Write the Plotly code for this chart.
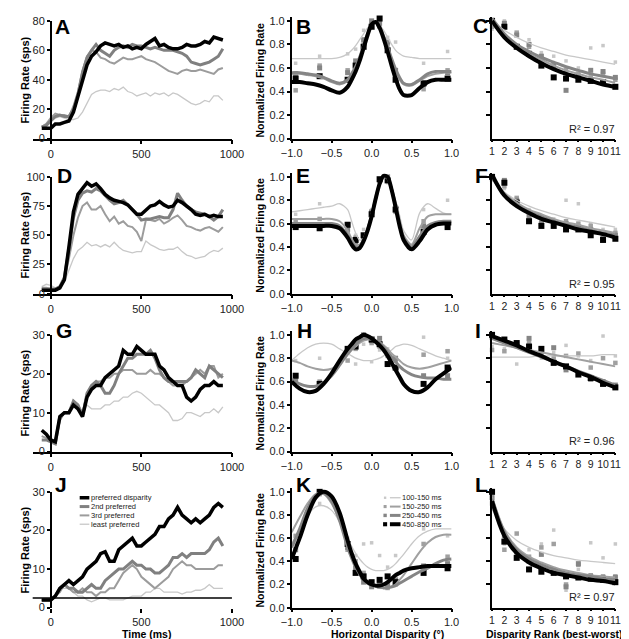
import plotly.graph_objects as go

W, H = 629, 639
FONT = "Liberation Sans, Arial, sans-serif"

# ---------------- PSTH data (column 1) ----------------
TIME_MS = [-50, -25, 0, 25, 50, 75, 100, 125, 150, 175, 200, 225, 250, 275, 300, 325, 350, 375, 400, 425,
           450, 475, 500, 525, 550, 575, 600, 625, 650, 675, 700, 725, 750, 775, 800, 825, 850, 875, 900, 925, 950]

A_PREFERRED = [7, 7, 7, 10, 10, 11, 12, 18, 28, 40, 50, 56, 59, 63, 65, 64, 63, 64, 62, 63,
               61, 62, 61, 64, 66, 68, 63, 64, 62, 61, 61, 62, 64, 63, 63, 64, 66, 65, 69, 68, 67]
A_SECOND = [8, 9, 12, 15, 16, 15, 15, 20, 30, 45, 55, 60, 64, 60, 58, 56, 60, 62, 63, 62,
            64, 63, 63, 62, 61, 62, 61, 60, 60, 60, 59, 58, 56, 52, 51, 50, 51, 52, 54, 56, 61]
A_THIRD = [8, 10, 14, 17, 16, 16, 15, 22, 32, 46, 56, 60, 59, 55, 54, 52, 51, 53, 55, 54,
           54, 55, 56, 54, 53, 52, 50, 48, 46, 45, 44, 46, 47, 46, 46, 47, 46, 45, 44, 47, 48]
A_LEAST = [8, 9, 12, 14, 15, 14, 13, 13, 14, 18, 24, 30, 32, 33, 33, 32, 34, 33, 35, 32,
           31, 29, 30, 31, 29, 31, 30, 31, 29, 31, 30, 28, 26, 24, 23, 24, 26, 25, 29, 29, 26]

D_PREFERRED = [3, 3, 3, 3, 5, 12, 40, 70, 85, 90, 95, 92, 94, 90, 85, 82, 80, 79, 78, 76,
               72, 68, 68, 72, 75, 76, 79, 76, 74, 75, 80, 78, 75, 72, 68, 67, 68, 66, 67, 66, 66]
D_SECOND = [4, 4, 4, 4, 6, 14, 38, 65, 80, 86, 88, 87, 90, 88, 84, 80, 77, 78, 80, 76,
            72, 68, 63, 64, 64, 65, 66, 65, 65, 72, 86, 80, 75, 72, 70, 69, 68, 66, 63, 66, 72]
D_THIRD = [5, 5, 4, 4, 6, 12, 30, 50, 65, 75, 78, 72, 72, 75, 68, 62, 66, 60, 62, 58,
           57, 53, 45, 63, 63, 62, 64, 60, 62, 65, 67, 63, 58, 57, 55, 54, 56, 57, 55, 53, 57]
D_LEAST = [6, 8, 7, 5, 6, 10, 20, 30, 37, 40, 44, 41, 42, 40, 42, 40, 44, 40, 37, 36,
           35, 36, 36, 45, 42, 40, 38, 37, 38, 38, 40, 36, 33, 32, 30, 31, 32, 35, 37, 36, 39]

G_PREFERRED = [5.5, 4.5, 3, 2.5, 9, 10, 10, 12, 11, 9, 14, 16, 17, 17, 19, 20, 21, 22, 26, 25,
               25, 27, 26, 25, 25, 25, 22, 21, 19, 18, 17, 17, 14, 13, 14, 16, 17, 17, 18, 17, 17]
G_SECOND = [3, 3, 2.5, 2, 9, 10, 10, 13, 12, 9, 15, 17, 18, 17, 15, 15, 17, 20, 22, 24,
            24, 25, 25, 25, 26, 24, 21, 19, 18, 18, 18, 18, 18, 19, 21, 20, 19, 22, 21, 20, 19]
G_THIRD = [4, 3.5, 3, 2.5, 8, 10, 10, 13, 12, 10, 15, 17, 18, 18, 19, 19, 20, 20, 21, 21,
           21, 20, 20, 20, 21, 20, 20, 19, 18, 17, 17, 17, 18, 19, 20, 21, 20, 22, 22, 19, 20]
G_LEAST = [4, 3.5, 3, 3, 8, 10, 10, 12, 11, 10, 12, 11, 11, 11, 12, 12, 13, 13, 14, 14,
           15, 15.5, 15, 14, 13, 12, 12, 11, 10, 8, 8, 8.5, 10, 10, 9.5, 9, 10, 10, 11, 10, 11.5]

J_PREFERRED = [2, 2, 2, 3, 5, 6, 7, 6, 7, 8, 10, 11, 12, 14, 14.5, 12, 12, 15, 16, 17,
               18, 16, 16, 17, 18, 19, 21, 21, 23, 24, 26, 24, 23, 22, 23, 22, 23, 24, 26, 27, 26]
J_SECOND = [2, 2, 2, 3, 5, 6, 5, 5, 4, 4, 5, 6, 5, 5, 7, 8, 9, 10, 10, 11,
            12, 11, 11, 10, 10, 9, 9, 10, 11, 13, 13, 14, 13, 14, 14, 14, 14, 15, 17, 18, 16]
J_THIRD = [2, 2, 2, 3, 4, 6, 5, 4, 4, 5, 4, 4, 3, 4, 4, 5, 5, 7, 9, 10,
           11, 10, 8, 7, 6, 5, 6, 7, 8, 10, 11, 12, 11, 11, 10, 10, 10, 10, 10, 11, 11]
J_LEAST = [2, 2, 2, 3, 5, 5, 5, 4, 3, 3, 2, 1.5, 2, 2.5, 2.5, 2, 2, 2, 2, 2.5,
           3, 3, 3, 4, 4, 5, 5, 4, 4, 4, 4, 3.5, 4, 4, 4.5, 4.5, 5, 6, 5, 5, 5]
J_BASELINE = 2.5

PSTH_NAMES = ["preferred disparity", "2nd preferred", "3rd preferred", "least preferred"]
PSTH_YMAX = [80, 100, 30, 30]
PSTH_TICKS = [[0, 20, 40, 60, 80], [0, 25, 50, 75, 100], [0, 10, 20, 30], [0, 10, 20, 30]]
TIME_TICKS = [0, 500, 1000]

# ---------------- Disparity tuning (column 2) ----------------
WINDOW_NAMES = ["100-150 ms", "150-250 ms", "250-450 ms", "450-850 ms"]
DISP_FIT = [-1.0, -0.9, -0.8, -0.7, -0.6, -0.5, -0.4, -0.3, -0.25, -0.2, -0.15, -0.1, -0.05, 0.0,
            0.05, 0.1, 0.15, 0.2, 0.25, 0.3, 0.35, 0.4, 0.5, 0.6, 0.7, 0.8, 0.9, 1.0]
DISP_DATA = [-0.95, -0.65, -0.3, -0.2, -0.1, 0.0, 0.1, 0.2, 0.3, 0.65, 0.95]
DISP_TICKS = [-1.0, -0.5, 0.0, 0.5, 1.0]

B_FIT_100 = [0.68, 0.68, 0.68, 0.68, 0.68, 0.68, 0.69, 0.72, 0.75, 0.79, 0.84, 0.89, 0.94, 0.97,
             0.98, 0.96, 0.92, 0.86, 0.8, 0.75, 0.72, 0.7, 0.69, 0.68, 0.68, 0.68, 0.68, 0.68]
B_FIT_150 = [0.55, 0.55, 0.54, 0.53, 0.51, 0.48, 0.46, 0.49, 0.54, 0.6, 0.69, 0.79, 0.89, 0.97,
             0.99, 0.95, 0.87, 0.77, 0.66, 0.57, 0.5, 0.46, 0.45, 0.49, 0.53, 0.55, 0.56, 0.56]
B_FIT_250 = [0.56, 0.56, 0.55, 0.54, 0.52, 0.49, 0.47, 0.5, 0.55, 0.61, 0.69, 0.79, 0.89, 0.97,
             0.99, 0.95, 0.87, 0.78, 0.68, 0.59, 0.52, 0.47, 0.46, 0.5, 0.55, 0.57, 0.57, 0.57]
B_FIT_450 = [0.48, 0.48, 0.47, 0.46, 0.44, 0.41, 0.39, 0.44, 0.5, 0.57, 0.66, 0.77, 0.88, 0.97,
             0.99, 0.94, 0.85, 0.74, 0.62, 0.51, 0.42, 0.37, 0.37, 0.43, 0.48, 0.5, 0.5, 0.5]
B_PTS_100 = [0.64, 0.7, 0.72, 0.76, 0.92, 0.97, 0.96, 0.86, 0.82, 0.64, 0.74]
B_PTS_150 = [0.41, 0.62, 0.58, 0.6, 0.8, 0.97, 0.95, 0.8, 0.55, 0.42, 0.58]
B_PTS_250 = [0.55, 0.6, 0.56, 0.66, 0.84, 1.0, 0.98, 0.82, 0.58, 0.46, 0.56]
B_PTS_450 = [0.51, 0.53, 0.5, 0.62, 0.78, 0.95, 1.02, 0.75, 0.5, 0.47, 0.51]

E_FIT_100 = [0.7, 0.71, 0.72, 0.73, 0.74, 0.75, 0.77, 0.72, 0.62, 0.52, 0.46, 0.47, 0.55, 0.68,
             0.82, 0.94, 1.0, 0.99, 0.92, 0.8, 0.67, 0.54, 0.46, 0.69, 0.77, 0.73, 0.69, 0.68]
E_FIT_150 = [0.64, 0.64, 0.64, 0.64, 0.64, 0.64, 0.62, 0.54, 0.47, 0.42, 0.42, 0.47, 0.56, 0.68,
             0.82, 0.94, 1.0, 0.99, 0.9, 0.77, 0.63, 0.5, 0.42, 0.56, 0.66, 0.68, 0.68, 0.68]
E_FIT_250 = [0.6, 0.6, 0.6, 0.6, 0.6, 0.6, 0.58, 0.5, 0.44, 0.4, 0.4, 0.46, 0.55, 0.67,
             0.81, 0.94, 1.0, 0.99, 0.89, 0.75, 0.6, 0.48, 0.4, 0.49, 0.58, 0.61, 0.62, 0.62]
E_FIT_450 = [0.58, 0.58, 0.58, 0.58, 0.58, 0.58, 0.56, 0.48, 0.42, 0.38, 0.39, 0.45, 0.54, 0.66,
             0.81, 0.94, 1.01, 1.0, 0.89, 0.74, 0.58, 0.46, 0.38, 0.45, 0.55, 0.59, 0.6, 0.6]
E_PTS_100 = [0.68, 0.77, 0.6, 0.5, 0.55, 0.72, 0.98, 0.95, 0.75, 0.72, 0.8]
E_PTS_150 = [0.62, 0.64, 0.52, 0.48, 0.5, 0.7, 0.96, 0.98, 0.7, 0.62, 0.6]
E_PTS_250 = [0.58, 0.58, 0.55, 0.44, 0.48, 0.7, 0.97, 1.0, 0.74, 0.58, 0.58]
E_PTS_450 = [0.57, 0.56, 0.59, 0.46, 0.5, 0.68, 0.98, 0.97, 0.72, 0.53, 0.57]

H_FIT_100 = [0.78, 0.84, 0.89, 0.92, 0.93, 0.92, 0.88, 0.84, 0.82, 0.8, 0.79, 0.78, 0.78, 0.78,
             0.79, 0.8, 0.82, 0.85, 0.87, 0.9, 0.91, 0.92, 0.91, 0.88, 0.85, 0.82, 0.8, 0.78]
H_FIT_150 = [0.78, 0.76, 0.73, 0.71, 0.7, 0.71, 0.76, 0.83, 0.87, 0.9, 0.93, 0.95, 0.96, 0.96,
             0.95, 0.94, 0.91, 0.88, 0.84, 0.81, 0.78, 0.75, 0.72, 0.71, 0.72, 0.74, 0.76, 0.78]
H_FIT_250 = [0.62, 0.58, 0.56, 0.56, 0.59, 0.65, 0.74, 0.84, 0.88, 0.92, 0.95, 0.97, 0.97, 0.97,
             0.95, 0.93, 0.89, 0.85, 0.81, 0.77, 0.73, 0.7, 0.66, 0.64, 0.63, 0.63, 0.62, 0.62]
H_FIT_450 = [0.6, 0.54, 0.51, 0.52, 0.58, 0.67, 0.78, 0.88, 0.92, 0.96, 0.98, 1.0, 0.99, 0.97,
             0.94, 0.91, 0.87, 0.82, 0.76, 0.7, 0.64, 0.58, 0.52, 0.51, 0.55, 0.62, 0.67, 0.72]
H_PTS_100 = [0.78, 0.8, 0.85, 0.75, 0.92, 0.77, 0.87, 0.88, 0.8, 0.98, 0.8]
H_PTS_150 = [0.62, 0.6, 0.78, 0.88, 1.0, 0.93, 0.9, 0.82, 0.78, 0.83, 0.86]
H_PTS_250 = [0.6, 0.57, 0.86, 0.92, 1.0, 0.95, 0.97, 0.85, 0.8, 0.65, 0.65]
H_PTS_450 = [0.65, 0.58, 0.88, 0.9, 0.98, 0.96, 0.92, 0.75, 0.72, 0.58, 0.72]

K_FIT_100 = [0.55, 0.68, 0.8, 0.87, 0.88, 0.84, 0.74, 0.6, 0.53, 0.47, 0.42, 0.38, 0.35, 0.33,
             0.32, 0.32, 0.32, 0.33, 0.35, 0.38, 0.42, 0.46, 0.55, 0.62, 0.66, 0.68, 0.68, 0.68]
K_FIT_150 = [0.65, 0.78, 0.9, 0.98, 0.98, 0.9, 0.75, 0.55, 0.46, 0.38, 0.31, 0.26, 0.22, 0.2,
             0.18, 0.17, 0.17, 0.17, 0.18, 0.2, 0.24, 0.28, 0.38, 0.48, 0.56, 0.61, 0.63, 0.63]
K_FIT_250 = [0.52, 0.68, 0.86, 0.97, 0.99, 0.92, 0.75, 0.52, 0.43, 0.35, 0.29, 0.24, 0.21, 0.2,
             0.19, 0.18, 0.17, 0.17, 0.18, 0.19, 0.21, 0.23, 0.27, 0.31, 0.34, 0.38, 0.41, 0.42]
K_FIT_450 = [0.42, 0.6, 0.8, 0.95, 1.0, 0.96, 0.82, 0.58, 0.47, 0.38, 0.31, 0.25, 0.22, 0.2,
             0.19, 0.19, 0.2, 0.22, 0.25, 0.28, 0.3, 0.32, 0.34, 0.35, 0.36, 0.36, 0.36, 0.36]
K_PTS_100 = [0.55, 0.9, 0.6, 0.45, 0.55, 0.56, 0.45, 0.35, 0.45, 0.68, 0.62]
K_PTS_150 = [0.62, 0.98, 0.5, 0.4, 0.3, 0.22, 0.18, 0.17, 0.2, 0.55, 0.44]
K_PTS_250 = [0.5, 1.0, 0.52, 0.34, 0.22, 0.18, 0.2, 0.2, 0.24, 0.36, 0.38]
K_PTS_450 = [0.42, 1.0, 0.55, 0.3, 0.27, 0.22, 0.24, 0.27, 0.22, 0.3, 0.34]

# ---------------- Disparity rank (column 3) ----------------
RANKS = [1, 2, 3, 4, 5, 6, 7, 8, 9, 10, 11]

C_FIT_100 = [1.0, 0.92, 0.86, 0.81, 0.77, 0.74, 0.71, 0.69, 0.67, 0.65, 0.63]
C_FIT_150 = [1.01, 0.87, 0.78, 0.72, 0.67, 0.62, 0.58, 0.55, 0.52, 0.5, 0.47]
C_FIT_250 = [1.02, 0.89, 0.8, 0.74, 0.69, 0.65, 0.61, 0.58, 0.55, 0.53, 0.51]
C_FIT_450 = [1.0, 0.86, 0.77, 0.7, 0.64, 0.59, 0.55, 0.52, 0.49, 0.46, 0.44]
C_PTS_100 = [0.93, 1.0, 0.9, 0.84, 0.73, 0.7, 0.66, 0.6, 0.77, 0.79, 0.65]
C_PTS_150 = [0.95, 0.96, 0.9, 0.78, 0.66, 0.6, 0.58, 0.55, 0.52, 0.55, 0.5]
C_PTS_250 = [1.0, 0.98, 0.88, 0.8, 0.7, 0.62, 0.41, 0.53, 0.58, 0.57, 0.52]
C_PTS_450 = [1.0, 0.95, 0.78, 0.72, 0.62, 0.52, 0.51, 0.5, 0.49, 0.48, 0.44]

F_FIT_100 = [0.98, 0.87, 0.8, 0.75, 0.71, 0.68, 0.65, 0.63, 0.61, 0.59, 0.57]
F_FIT_150 = [0.99, 0.86, 0.78, 0.72, 0.68, 0.64, 0.61, 0.59, 0.56, 0.54, 0.52]
F_FIT_250 = [1.0, 0.85, 0.76, 0.7, 0.66, 0.62, 0.59, 0.57, 0.54, 0.52, 0.5]
F_FIT_450 = [1.02, 0.84, 0.75, 0.69, 0.64, 0.61, 0.58, 0.55, 0.53, 0.51, 0.48]
F_PTS_100 = [1.0, 0.9, 0.8, 0.72, 0.65, 0.64, 0.8, 0.77, 0.6, 0.55, 0.55]
F_PTS_150 = [0.98, 0.92, 0.82, 0.7, 0.62, 0.62, 0.62, 0.6, 0.58, 0.5, 0.52]
F_PTS_250 = [1.0, 0.97, 0.8, 0.66, 0.6, 0.6, 0.6, 0.57, 0.55, 0.48, 0.5]
F_PTS_450 = [1.0, 0.95, 0.78, 0.62, 0.58, 0.58, 0.55, 0.55, 0.5, 0.46, 0.47]

I_FIT_100 = [0.81, 0.81, 0.81, 0.81, 0.82, 0.82, 0.82, 0.82, 0.82, 0.83, 0.83]
I_FIT_150 = [0.93, 0.91, 0.89, 0.87, 0.85, 0.83, 0.81, 0.79, 0.77, 0.75, 0.73]
I_FIT_250 = [0.97, 0.93, 0.89, 0.85, 0.81, 0.77, 0.73, 0.69, 0.65, 0.61, 0.57]
I_FIT_450 = [0.99, 0.95, 0.91, 0.86, 0.82, 0.77, 0.73, 0.68, 0.64, 0.59, 0.55]
I_PTS_100 = [0.9, 0.88, 0.75, 0.88, 0.8, 0.85, 0.91, 0.82, 0.78, 0.99, 0.82]
I_PTS_150 = [0.87, 0.86, 0.92, 0.93, 0.84, 0.8, 0.82, 0.84, 0.72, 0.8, 0.76]
I_PTS_250 = [0.98, 0.95, 0.92, 0.97, 0.86, 0.89, 0.7, 0.67, 0.62, 0.6, 0.57]
I_PTS_450 = [1.0, 0.96, 0.93, 0.9, 0.88, 0.76, 0.73, 0.66, 0.63, 0.58, 0.55]

L_FIT_100 = [0.85, 0.68, 0.58, 0.52, 0.48, 0.45, 0.43, 0.41, 0.4, 0.39, 0.38]
L_FIT_150 = [0.96, 0.67, 0.52, 0.44, 0.39, 0.35, 0.32, 0.3, 0.28, 0.27, 0.26]
L_FIT_250 = [0.94, 0.65, 0.5, 0.42, 0.37, 0.33, 0.3, 0.28, 0.27, 0.25, 0.24]
L_FIT_450 = [0.92, 0.62, 0.47, 0.39, 0.34, 0.3, 0.28, 0.26, 0.24, 0.23, 0.21]
L_PTS_100 = [0.85, 0.55, 0.5, 0.5, 0.55, 0.67, 0.15, 0.33, 0.56, 0.43, 0.55]
L_PTS_150 = [0.9, 0.5, 0.64, 0.44, 0.52, 0.55, 0.2, 0.37, 0.28, 0.27, 0.27]
L_PTS_250 = [0.95, 0.62, 0.48, 0.4, 0.46, 0.33, 0.18, 0.38, 0.27, 0.26, 0.26]
L_PTS_450 = [1.0, 0.57, 0.43, 0.33, 0.31, 0.3, 0.27, 0.26, 0.25, 0.24, 0.22]

R2_LABELS = ["R² = 0.97", "R² = 0.95", "R² = 0.96", "R² = 0.97"]
PANEL_LETTERS = ["A", "B", "C", "D", "E", "F", "G", "H", "I", "J", "K", "L"]

# ---------------- styles / layout geometry ----------------
PSTH_STYLE = [("#000000", 3.5), ("#808080", 3.0), ("#9c9c9c", 2.0), ("#c8c8c8", 1.3)]
WIN_STYLE = [("#c8c8c8", 1.3, 3.5), ("#a0a0a0", 2.0, 4.5), ("#858585", 3.0, 5.0), ("#000000", 4.0, 6.0)]

ROW_PX = [(7, 127), (166, 285), (327, 446), (487, 605)]
COL_PX = [(14.2, 221), (283, 449), (491, 619)]
YAXIS1_PX = 33

PSTH = [
    [A_PREFERRED, A_SECOND, A_THIRD, A_LEAST],
    [D_PREFERRED, D_SECOND, D_THIRD, D_LEAST],
    [G_PREFERRED, G_SECOND, G_THIRD, G_LEAST],
    [J_PREFERRED, J_SECOND, J_THIRD, J_LEAST],
]
TUNE_FIT = [
    [B_FIT_100, B_FIT_150, B_FIT_250, B_FIT_450],
    [E_FIT_100, E_FIT_150, E_FIT_250, E_FIT_450],
    [H_FIT_100, H_FIT_150, H_FIT_250, H_FIT_450],
    [K_FIT_100, K_FIT_150, K_FIT_250, K_FIT_450],
]
TUNE_PTS = [
    [B_PTS_100, B_PTS_150, B_PTS_250, B_PTS_450],
    [E_PTS_100, E_PTS_150, E_PTS_250, E_PTS_450],
    [H_PTS_100, H_PTS_150, H_PTS_250, H_PTS_450],
    [K_PTS_100, K_PTS_150, K_PTS_250, K_PTS_450],
]
RANK_FIT = [
    [C_FIT_100, C_FIT_150, C_FIT_250, C_FIT_450],
    [F_FIT_100, F_FIT_150, F_FIT_250, F_FIT_450],
    [I_FIT_100, I_FIT_150, I_FIT_250, I_FIT_450],
    [L_FIT_100, L_FIT_150, L_FIT_250, L_FIT_450],
]
RANK_PTS = [
    [C_PTS_100, C_PTS_150, C_PTS_250, C_PTS_450],
    [F_PTS_100, F_PTS_150, F_PTS_250, F_PTS_450],
    [I_PTS_100, I_PTS_150, I_PTS_250, I_PTS_450],
    [L_PTS_100, L_PTS_150, L_PTS_250, L_PTS_450],
]

TICKFONT = dict(family=FONT, size=11, color="#222222")


def px_x(px):
    return px / W


def px_y(py):
    return 1 - py / H


def refs(k):
    return ("x" if k == 1 else f"x{k}"), ("y" if k == 1 else f"y{k}")


def axkeys(k):
    return ("xaxis" if k == 1 else f"xaxis{k}"), ("yaxis" if k == 1 else f"yaxis{k}")


fig = go.Figure()
layout_axes = {}
AXLINE = dict(showline=True, linecolor="black", linewidth=1.5, showgrid=False, zeroline=False,
              tickcolor="black", tickwidth=1.5, tickfont=TICKFONT, tickangle=0)

for r in range(4):
    top, bot = ROW_PX[r]
    # ---- column 1: PSTH ----
    k = r * 3 + 1
    xr, yr = refs(k)
    xk, yk = axkeys(k)
    for i in [3, 2, 1, 0]:
        col, wd = PSTH_STYLE[i]
        fig.add_trace(go.Scatter(x=TIME_MS, y=PSTH[r][i], mode="lines", xaxis=xr, yaxis=yr,
                                 line=dict(color=col, width=wd), showlegend=False, cliponaxis=False))
    c0, c1 = COL_PX[0]
    xa = dict(AXLINE, domain=[px_x(c0), px_x(c1)], range=[-100, 1000], anchor=yr,
              ticks="outside", ticklen=4, tickvals=TIME_TICKS)
    if r == 3:
        xa["showline"] = False
    ya = dict(AXLINE, domain=[px_y(bot), px_y(top)], range=[0, PSTH_YMAX[r]], anchor="free",
              position=px_x(YAXIS1_PX), ticks="outside", ticklen=3, tickvals=PSTH_TICKS[r])
    layout_axes[xk] = xa
    layout_axes[yk] = ya

    # ---- column 2: tuning ----
    k = r * 3 + 2
    xr, yr = refs(k)
    xk, yk = axkeys(k)
    for i in range(4):
        col, wd, ms = WIN_STYLE[i]
        fig.add_trace(go.Scatter(x=DISP_DATA, y=TUNE_PTS[r][i], mode="markers", xaxis=xr, yaxis=yr,
                                 marker=dict(symbol="square", size=ms, color=col), showlegend=False,
                                 cliponaxis=False))
    for i in range(4):
        col, wd, ms = WIN_STYLE[i]
        fig.add_trace(go.Scatter(x=DISP_FIT, y=TUNE_FIT[r][i], mode="lines", xaxis=xr, yaxis=yr,
                                 line=dict(color=col, width=wd, shape="spline", smoothing=0.8),
                                 showlegend=False, cliponaxis=False))
    c0, c1 = COL_PX[1]
    span = bot - top
    xa = dict(AXLINE, domain=[px_x(c0), px_x(c1)], range=[-1, 1], anchor=yr, ticks="outside",
              ticklen=3, tickvals=DISP_TICKS, tickformat=".1f")
    ya = dict(AXLINE, domain=[px_y(bot), px_y(top - 0.03 * span)], range=[0, 1.03], anchor=xr,
              ticks="outside", ticklen=3, tickvals=[0, 0.2, 0.4, 0.6, 0.8, 1.0], tickformat=".1f")
    layout_axes[xk] = xa
    layout_axes[yk] = ya

    # ---- column 3: rank ----
    k = r * 3 + 3
    xr, yr = refs(k)
    xk, yk = axkeys(k)
    for i in range(4):
        col, wd, ms = WIN_STYLE[i]
        fig.add_trace(go.Scatter(x=RANKS, y=RANK_PTS[r][i], mode="markers", xaxis=xr, yaxis=yr,
                                 marker=dict(symbol="square", size=ms, color=col), showlegend=False,
                                 cliponaxis=False))
    for i in range(4):
        col, wd, ms = WIN_STYLE[i]
        fig.add_trace(go.Scatter(x=RANKS, y=RANK_FIT[r][i], mode="lines", xaxis=xr, yaxis=yr,
                                 line=dict(color=col, width=wd, shape="spline", smoothing=1.0),
                                 showlegend=False, cliponaxis=False))
    c0, c1 = COL_PX[2]
    xa = dict(AXLINE, domain=[px_x(c0), px_x(c1)], range=[1, 11], anchor=yr, ticks="outside",
              ticklen=2, tickvals=RANKS, tickfont=dict(family=FONT, size=10.5, color="#222222"))
    ya = dict(AXLINE, domain=[px_y(bot), px_y(top - 0.03 * span)], range=[0, 1.03], anchor=xr,
              ticks="outside", ticklen=4, tickvals=[0.2, 0.4, 0.6, 0.8, 1.0], showticklabels=False)
    layout_axes[xk] = xa
    layout_axes[yk] = ya

annotations = []
shapes = []

# panel letters
LETTER_POS = [(45, 13), (295, 13), (479, 12), (47, 165), (295, 165), (480, 165),
              (47, 323), (296, 323), (476, 323), (44, 480), (295, 479), (480, 479)]
for letter, (lx, ly) in zip(PANEL_LETTERS, LETTER_POS):
    annotations.append(dict(text=letter, x=px_x(lx), y=px_y(ly), xref="paper", yref="paper",
                            showarrow=False, xanchor="center", yanchor="middle",
                            font=dict(family=FONT, size=21, color="black", weight="bold")))

# y titles
ROW_MID = [67, 225, 386, 546]
for r in range(4):
    annotations.append(dict(text="Firing Rate (sps)", x=px_x(6), y=px_y(ROW_MID[r]), xref="paper",
                            yref="paper", showarrow=False, textangle=-90, xanchor="center",
                            yanchor="middle", font=dict(family=FONT, size=11, color="black", weight="bold")))
    annotations.append(dict(text="Normalized Firing Rate", x=px_x(250), y=px_y(ROW_MID[r]),
                            xref="paper", yref="paper", showarrow=False, textangle=-90,
                            xanchor="center", yanchor="middle",
                            font=dict(family=FONT, size=10.5, color="black", weight="bold")))

# x titles
for txt, cx in [("Time (ms)", 132), ("Horizontal Disparity (°)", 382), ("Disparity Rank (best-worst)", 556)]:
    annotations.append(dict(text=txt, x=px_x(cx), y=px_y(639.5), xref="paper", yref="paper",
                            showarrow=False, xanchor="center", yanchor="bottom", borderpad=0,
                            font=dict(family=FONT, size=10.5, color="black", weight="bold")))

# R^2 labels
R2_Y = [117, 275, 435, 594]
for lab, ry in zip(R2_LABELS, R2_Y):
    annotations.append(dict(text=lab, x=px_x(621), y=px_y(ry), xref="paper", yref="paper",
                            showarrow=False, xanchor="right", yanchor="middle",
                            font=dict(family=FONT, size=11, color="#222222")))

# J baseline
shapes.append(dict(type="line", xref="x10 domain", yref="y10", x0=0, x1=1, y0=J_BASELINE,
                   y1=J_BASELINE, line=dict(color="black", width=1.5)))

LEG_FONT = dict(family=FONT, size=7.5, color="#222222")

# legend in J
J_LEG_Y = [493, 502, 511, 520]
for i, name in enumerate(PSTH_NAMES):
    col, wd = PSTH_STYLE[i]
    shapes.append(dict(type="line", xref="paper", yref="paper", x0=px_x(63), x1=px_x(73),
                       y0=px_y(J_LEG_Y[i]), y1=px_y(J_LEG_Y[i]), line=dict(color=col, width=wd)))
    annotations.append(dict(text=name, x=px_x(74), y=px_y(J_LEG_Y[i]), xref="paper", yref="paper",
                            showarrow=False, xanchor="left", yanchor="middle", borderpad=0,
                            font=LEG_FONT))

# legend in K
K_LEG_Y = [493, 502, 511, 520]
for i, name in enumerate(WINDOW_NAMES):
    col, wd, ms = WIN_STYLE[i]
    shapes.append(dict(type="line", xref="paper", yref="paper", x0=px_x(385), x1=px_x(396),
                       y0=px_y(K_LEG_Y[i]), y1=px_y(K_LEG_Y[i]), line=dict(color=col, width=wd)))
    hs = ms / 2.0
    shapes.append(dict(type="rect", xref="paper", yref="paper", x0=px_x(380 - hs * 0.7),
                       x1=px_x(380 + hs * 0.7), y0=px_y(K_LEG_Y[i] + hs * 0.7),
                       y1=px_y(K_LEG_Y[i] - hs * 0.7), fillcolor=col, line=dict(width=0)))
    annotations.append(dict(text=name, x=px_x(397), y=px_y(K_LEG_Y[i]), xref="paper", yref="paper",
                            showarrow=False, xanchor="left", yanchor="middle", borderpad=0,
                            font=LEG_FONT))

fig.update_layout(
    width=W, height=H, margin=dict(l=0, r=0, t=0, b=0),
    paper_bgcolor="white", plot_bgcolor="white", showlegend=False,
    font=dict(family=FONT, size=11, color="#222222"),
    annotations=annotations, shapes=shapes, **layout_axes,
)

fig.write_html("out.html")
